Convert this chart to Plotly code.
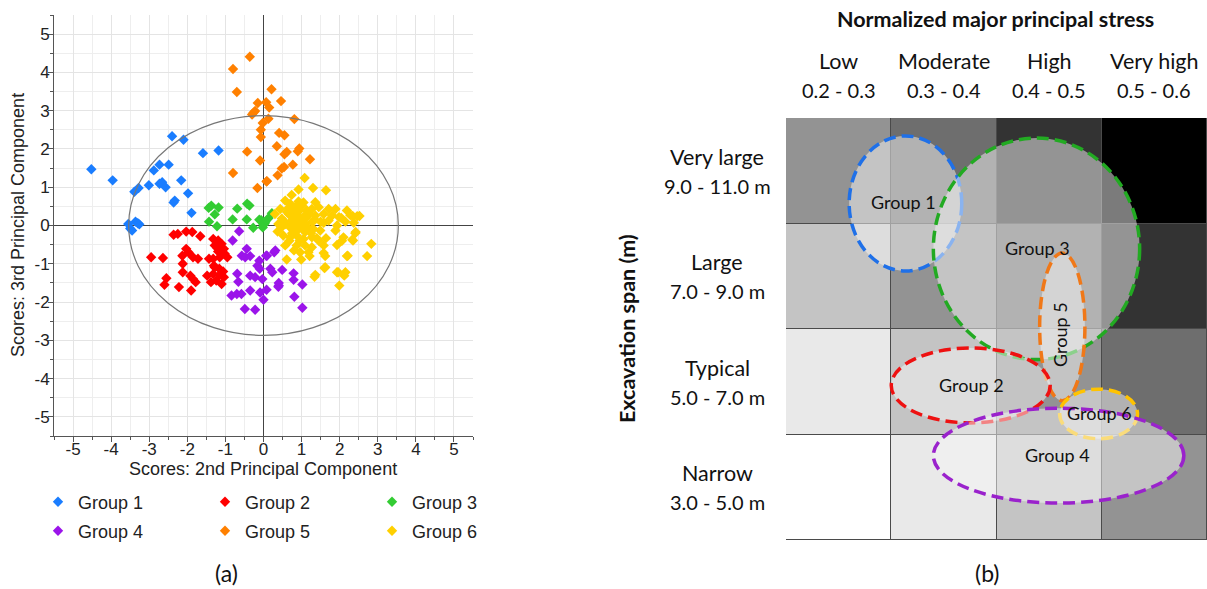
import plotly.graph_objects as go

# ---------------- (a) PCA scores ----------------
g1_x = [-4.52, -3.96, -2.40, -2.10, -1.59, -1.18, -2.73, -2.49, -2.88, -3.01, -3.28, -3.39, -2.73, -2.66,
        -2.57, -2.16, -1.98, -2.33, -2.36, -1.89, -3.55, -3.36, -3.26, -3.45, -3.50, -3.30]
g1_y = [1.47, 1.18, 2.33, 2.24, 1.89, 1.96, 1.59, 1.59, 1.44, 1.05, 0.98, 0.88, 1.09, 1.13,
        1.00, 1.18, 0.84, 0.65, 0.60, 0.33, 0.04, 0.10, 0.03, -0.13, -0.08, 0.06]

g2_x = [-2.36, -2.25, -2.03, -1.87, -1.66, -2.95, -2.64, -2.13, -2.03, -1.97, -1.85, -1.72,
        -1.32, -1.19, -1.10, -1.28, -1.04, -1.19, -1.02, -1.15, -0.95, -1.32, -1.43, -1.28,
        -1.16, -1.32, -1.15, -1.48, -1.04, -1.24, -1.38, -1.10, -2.12, -1.92, -1.85, -2.12,
        -2.55, -2.60, -2.22, -1.90, -1.78, -1.22, -1.06, -1.30]
g2_y = [-0.24, -0.22, -0.16, -0.17, -0.28, -0.83, -0.85, -0.79, -0.61, -0.70, -0.83, -0.87,
        -0.35, -0.39, -0.48, -0.52, -0.61, -0.68, -0.74, -0.83, -0.83, -0.87, -0.87, -1.09,
        -1.13, -1.27, -1.29, -1.31, -1.35, -1.44, -1.48, -1.53, -1.00, -1.31, -1.40, -1.22,
        -1.38, -1.55, -1.61, -1.70, -1.48, -0.58, -1.20, -1.05]

g3_x = [-1.44, -1.37, -1.28, -1.43, -1.18, -0.69, -0.81, -0.44, -0.43, -0.37, -0.11, -0.06,
        0.03, -0.27, -1.22, 0.22, 0.13, 0.05, 0.00, -0.02]
g3_y = [0.46, 0.52, 0.29, 0.10, 0.47, 0.44, 0.16, 0.16, 0.57, 0.52, 0.15, 0.14,
        0.05, -0.06, -0.02, 0.32, 0.19, 0.10, 0.02, -0.05]

g4_x = [-0.64, -0.81, -0.44, -0.57, -0.48, -0.35, -0.11, -0.16, -0.10, -0.35, -0.22, -0.69,
        -0.66, -0.84, -0.70, -0.58, -0.35, -0.09, -0.49, -0.22, 0.31, 0.18, 0.23, 0.09,
        0.40, -0.03, 0.07, 0.49, 0.79, 0.79, 1.02, 0.39, 0.08, 0.81, 0.00, 1.02, 0.28, 0.40]
g4_y = [-0.15, -0.39, -0.61, -0.79, -0.83, -0.80, -0.92, -1.05, -1.13, -1.31, -1.35, -1.26,
        -1.47, -1.83, -1.79, -1.79, -1.70, -1.75, -2.18, -2.20, -0.65, -1.13, -1.22, -0.79,
        -1.57, -1.40, -0.79, -1.16, -1.25, -1.42, -1.54, -1.60, -1.68, -1.86, -1.94, -2.15, -0.70, -1.50]

g5_x = [-0.36, -0.80, -0.70, 0.21, -0.15, 0.07, 0.15, -0.22, -0.30, -0.02, 0.13, -0.07,
        -0.07, 0.35, -0.43, -0.09, -0.80, 0.09, -0.16, 0.46, 0.81, 0.41, 0.55, 0.61,
        0.55, 0.94, 0.90, 1.22, 0.77, 0.54, 0.48, 0.37, 0.08, -0.26]
g5_y = [4.41, 4.09, 3.49, 3.56, 3.20, 3.22, 3.08, 2.99, 2.90, 2.68, 2.79, 2.50,
        2.31, 2.07, 1.93, 1.70, 1.37, 1.16, 0.98, 3.25, 2.78, 2.42, 2.36, 1.92,
        1.86, 2.01, 1.94, 1.73, 1.59, 1.53, 1.49, 1.31, 1.15, 2.95]

g6_x = [1.08, 0.92, 1.30, 1.64, 0.74, 0.57, 0.92, 1.36, 0.44, 0.70, 0.83, 1.01, 1.14, 1.27,
        1.45, 1.71, 1.89, 2.19, 2.52, 2.34, 2.04, 1.80, 1.58, 1.36, 1.09, 0.88, 0.66, 0.48,
        0.39, 0.57, 0.74, 0.92, 1.09, 1.27, 1.58, 1.71, 1.93, 2.15, 2.37, 0.92, 0.79, 1.09,
        1.31, 1.49, 1.89, 2.42, 0.37, 0.52, 0.70, 0.87, 1.05, 1.27, 1.40, 1.64, 2.10, 0.57,
        0.87, 1.09, 1.27, 1.58, 1.93, 2.35, 2.83, 0.96, 1.18, 1.58, 1.62, 2.19, 2.72, 0.61,
        0.99, 1.21, 1.62, 1.93, 2.15, 1.36, 1.96, 2.12, 1.99, 1.34, 1.60, 0.62, 0.78, 0.95,
        1.20, 0.70, 0.85, 1.00, 1.15, 0.75, 1.00, 0.55, 1.35, 0.95, 1.25, 0.82, 1.12, 0.47,
        1.45, 0.68, 1.05, 2.46, 2.28, 1.98, 2.41, 2.33, 2.06, 2.21, 0.30, 0.65, 1.50, 0.80]
g6_y = [1.24, 0.94, 0.98, 0.92, 0.80, 0.65, 0.63, 0.61, 0.43, 0.57, 0.48, 0.52, 0.39, 0.43,
        0.48, 0.43, 0.43, 0.39, 0.25, 0.25, 0.20, 0.26, 0.30, 0.26, 0.26, 0.26, 0.30, 0.18,
        0.04, 0.04, 0.13, 0.09, 0.04, 0.09, 0.07, 0.13, 0.00, 0.10, 0.07, -0.09, -0.13, -0.17,
        -0.09, -0.13, -0.13, -0.17, -0.16, -0.26, -0.31, -0.26, -0.35, -0.31, -0.33, -0.33, -0.31, -0.52,
        -0.52, -0.52, -0.57, -0.52, -0.51, -0.39, -0.48, -0.70, -0.70, -0.72, -0.80, -0.80, -0.80, -0.89,
        -0.89, -0.80, -1.09, -1.22, -1.22, -1.29, -1.22, -1.31, -1.57, -1.34, -1.11, 0.35, 0.38, 0.40,
        0.30, -0.05, 0.00, 0.15, -0.05, -0.20, -0.05, 0.10, 0.15, -0.40, -0.20, 0.20, 0.20, -0.05,
        -0.40, -0.40, 0.60, 0.24, 0.27, 0.22, -0.20, -0.37, -0.40, -0.79, 0.30, 0.45, 0.10, -0.65]

group_names = ["Group 1", "Group 2", "Group 3", "Group 4", "Group 5", "Group 6"]
group_x = [g1_x, g2_x, g3_x, g4_x, g5_x, g6_x]
group_y = [g1_y, g2_y, g3_y, g4_y, g5_y, g6_y]
group_colors = ["#1a7dff", "#ff0000", "#33cc33", "#9b14ea", "#ff8000", "#ffd000"]

score_ticks = [-5, -4, -3, -2, -1, 0, 1, 2, 3, 4, 5]
score_tick_text = ["-5", "-4", "-3", "-2", "-1", "0", "1", "2", "3", "4", "5"]

# Hotelling T2 confidence ellipse (semi-axes in score units)
t2_rx = 3.54
t2_ry = 2.87

# ---------------- (b) span / stress matrix ----------------
stress_names = ["Low", "Moderate", "High", "Very high"]
stress_ranges = ["0.2 - 0.3", "0.3 - 0.4", "0.4 - 0.5", "0.5 - 0.6"]
span_names = ["Narrow", "Typical", "Large", "Very large"]
span_ranges = ["3.0 - 5.0 m", "5.0 - 7.0 m", "7.0 - 9.0 m", "9.0 - 11.0 m"]
# shade level of each cell (rows: Narrow -> Very large)
shade = [[0, 1, 2, 3],
         [1, 2, 3, 4],
         [2, 3, 4, 5],
         [3, 4, 5, 6]]

# group regions in matrix units (stress index, span index)
reg_names = ["Group 1", "Group 3", "Group 5", "Group 2", "Group 6", "Group 4"]
reg_x0 = [0.60, 1.40, 2.41, 1.00, 2.60, 1.40]
reg_x1 = [1.67, 3.36, 2.84, 2.51, 3.34, 3.78]
reg_y0 = [2.55, 1.71, 1.32, 1.11, 0.96, 0.35]
reg_y1 = [3.83, 3.81, 2.72, 1.82, 1.43, 1.25]
reg_lx = [1.12, 2.39, 2.61, 1.76, 2.98, 2.58]
reg_ly = [3.20, 2.77, 1.95, 1.47, 1.20, 0.81]
reg_colors = ["#1f70e8", "#22aa22", "#f07818", "#ee1111", "#ffc300", "#9a22cc"]

LEFT_FONT = "Liberation Sans"
RIGHT_FONT = "Lato"
W, H = 1207, 589

fig = go.Figure()

for i, (nm, xs, ys, c) in enumerate(zip(group_names, group_x, group_y, group_colors)):
    fig.add_trace(go.Scatter(
        x=xs, y=ys, mode="markers", name=nm,
        marker=dict(symbol="diamond", size=8, color=c, line=dict(width=0)),
        legend="legend" if i < 3 else "legend2",
        xaxis="x", yaxis="y",
    ))

fig.add_trace(go.Heatmap(
    z=shade, x=[0.5, 1.5, 2.5, 3.5], y=[0.5, 1.5, 2.5, 3.5],
    zmin=0, zmax=6, showscale=False, xgap=1, ygap=1,
    colorscale=[[0, "#ffffff"], [1/6, "#e9e9e9"], [2/6, "#c4c4c4"], [3/6, "#939393"],
                [4/6, "#6e6e6e"], [5/6, "#333333"], [1, "#000000"]],
    xaxis="x2", yaxis="y2", hoverinfo="skip",
))

shapes = [
    dict(type="circle", xref="x", yref="y", x0=-t2_rx, x1=t2_rx, y0=-t2_ry, y1=t2_ry,
         line=dict(color="#777777", width=1.2)),
    dict(type="rect", xref="x2", yref="y2", x0=0, x1=4, y0=0, y1=4, layer="below",
         fillcolor="#4a4a4a", line=dict(color="#4a4a4a", width=1)),
]
for x0, x1, y0, y1, c in zip(reg_x0, reg_x1, reg_y0, reg_y1, reg_colors):
    shapes.append(dict(type="circle", xref="x2", yref="y2", x0=x0, x1=x1, y0=y0, y1=y1,
                       fillcolor="rgba(246,246,246,0.5)",
                       line=dict(color=c, width=3.5, dash="12px,6px")))


def txt(text, x, y, size, family, xref="paper", yref="paper", angle=0, yshift=0, color="#111"):
    return dict(xref=xref, yref=yref, x=x, y=y, text=text, showarrow=False, textangle=angle,
                xanchor="center", yanchor="middle", yshift=yshift,
                font=dict(family=family, size=size, color=color))


ann = []
for nm, lx, ly in zip(reg_names, reg_lx, reg_ly):
    ann.append(txt(nm, lx, ly, 18, RIGHT_FONT, "x2", "y2", angle=-90 if nm == "Group 5" else 0))
for k, (n, r) in enumerate(zip(stress_names, stress_ranges)):
    ann.append(txt(n, k + 0.5, (H - 61) / H, 21.5, RIGHT_FONT, "x2", "paper"))
    ann.append(txt(r, k + 0.5, (H - 90) / H, 20, RIGHT_FONT, "x2", "paper"))
for k, (n, r) in enumerate(zip(span_names, span_ranges)):
    ann.append(txt(n, 717 / W, k + 0.5, 21.5, RIGHT_FONT, "paper", "y2", yshift=14))
    ann.append(txt(r, 717 / W, k + 0.5, 20, RIGHT_FONT, "paper", "y2", yshift=-15))
ann += [
    txt("<b>Normalized major principal stress</b>", 996 / W, (H - 19) / H, 21.5, RIGHT_FONT),
    txt("<b>Excavation span (m)</b>", 627 / W, (H - 329) / H, 21.5, RIGHT_FONT, angle=-90),
    txt("(a)", 226 / W, (H - 573) / H, 23, RIGHT_FONT),
    txt("(b)", 987 / W, (H - 573) / H, 23, RIGHT_FONT),
    txt("Scores: 2nd Principal Component", 263 / W, (H - 469) / H, 18, LEFT_FONT, color="#222"),
    txt("Scores: 3rd Principal Component", 18 / W, (H - 225) / H, 18, LEFT_FONT, angle=-90, color="#222"),
]

axis_common = dict(
    range=[-5.5, 5.5], tickmode="array", tickvals=score_ticks, ticktext=score_tick_text,
    showgrid=True, gridcolor="#e4e4e4", gridwidth=1,
    minor=dict(tickmode="linear", tick0=0, dtick=0.5, showgrid=True, gridcolor="#eeeeee",
               ticks="outside", ticklen=3, tickcolor="#555"),
    ticks="outside", ticklen=5, tickcolor="#555", showline=True, linecolor="#555", linewidth=1,
    zeroline=True, zerolinecolor="#444", zerolinewidth=1,
    tickfont=dict(family=LEFT_FONT, size=17, color="#222"), automargin=False, fixedrange=True,
)

fig.update_layout(
    width=W, height=H, margin=dict(l=0, r=0, t=0, b=0, autoexpand=False),
    paper_bgcolor="white", plot_bgcolor="white",
    font=dict(family=LEFT_FONT, color="#222"),
    xaxis=dict(domain=[54 / W, 473 / W], anchor="y", ticklabelstandoff=-7, **axis_common),
    yaxis=dict(domain=[(H - 436) / H, (H - 15) / H], anchor="x", ticklabelstandoff=-5, **axis_common),
    xaxis2=dict(domain=[786 / W, 1.0], anchor="y2", range=[0, 4], showgrid=False, zeroline=False,
                showticklabels=False, ticks="", showline=False),
    yaxis2=dict(domain=[(H - 540) / H, (H - 118) / H], anchor="x2", range=[0, 4], showgrid=False,
                zeroline=False, showticklabels=False, ticks="", showline=False),
    shapes=shapes, annotations=ann,
    legend=dict(orientation="h", x=38 / W, xanchor="left", y=(H - 502) / H, yanchor="middle",
                entrywidth=122, entrywidthmode="pixels", font=dict(family=LEFT_FONT, size=18, color="#222"),
                bgcolor="rgba(0,0,0,0)", itemclick=False),
    legend2=dict(orientation="h", x=38 / W, xanchor="left", y=(H - 531) / H, yanchor="middle",
                 entrywidth=122, entrywidthmode="pixels", font=dict(family=LEFT_FONT, size=18, color="#222"),
                 bgcolor="rgba(0,0,0,0)", itemclick=False),
    showlegend=True,
)

fig.write_html("out.html", config={"displayModeBar": False},
               post_script="document.body.style.margin='0';document.body.style.overflow='hidden';")
